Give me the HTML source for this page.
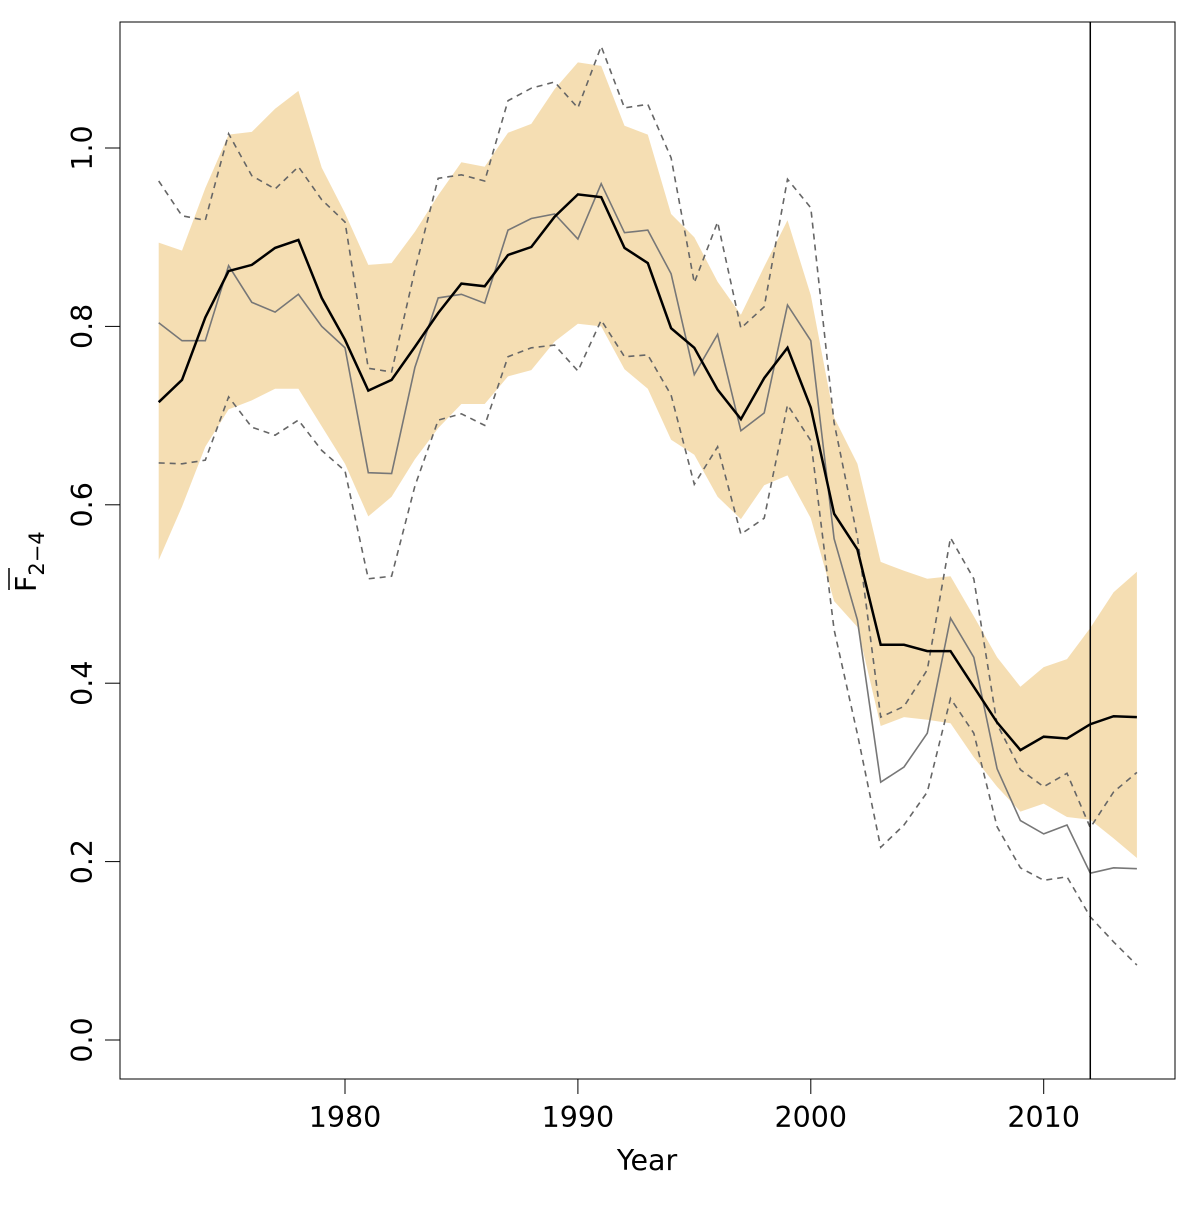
<!DOCTYPE html>
<html><head><meta charset="utf-8"><style>
html,body{margin:0;padding:0;background:#fff;}
svg text{font-family:"DejaVu Sans","Liberation Sans",sans-serif;fill:#000;}
</style></head><body>
<svg id="chart" width="1200" height="1200" viewBox="0 0 1200 1200">
<rect x="120" y="22" width="1055" height="1057" fill="none" stroke="#000" stroke-width="1"/>
<g id="band"></g><g id="lines"></g><g id="axes"></g>
</svg>
<script>
const years=[];for(let y=1972;y<=2014;y++)years.push(y);
const bandUpper=[0.894,0.885,0.955,1.015,1.018,1.044,1.064,0.978,0.927,0.869,0.871,0.906,0.947,0.984,0.979,1.017,1.027,1.066,1.096,1.092,1.025,1.015,0.926,0.9,0.85,0.813,0.867,0.919,0.835,0.698,0.646,0.536,0.526,0.517,0.52,0.475,0.429,0.396,0.418,0.427,0.462,0.502,0.525];
const bandLower=[0.538,0.598,0.665,0.707,0.717,0.73,0.73,0.688,0.646,0.587,0.609,0.651,0.686,0.713,0.713,0.744,0.751,0.783,0.803,0.8,0.752,0.73,0.673,0.656,0.609,0.584,0.622,0.633,0.585,0.492,0.463,0.352,0.362,0.359,0.355,0.317,0.284,0.256,0.265,0.25,0.247,0.226,0.204];
const meanF=[0.715,0.74,0.81,0.862,0.869,0.888,0.897,0.832,0.785,0.728,0.74,0.777,0.815,0.848,0.845,0.88,0.889,0.923,0.948,0.945,0.888,0.871,0.798,0.776,0.729,0.696,0.742,0.776,0.709,0.59,0.55,0.443,0.443,0.436,0.436,0.396,0.356,0.325,0.34,0.338,0.354,0.363,0.362];
const altF=[0.804,0.784,0.784,0.868,0.827,0.816,0.836,0.8,0.776,0.636,0.635,0.754,0.832,0.836,0.826,0.908,0.921,0.926,0.898,0.96,0.905,0.908,0.859,0.746,0.791,0.683,0.703,0.824,0.784,0.562,0.471,0.289,0.306,0.344,0.473,0.429,0.304,0.246,0.231,0.241,0.187,0.193,0.192];
const altUpper=[0.963,0.924,0.919,1.016,0.969,0.954,0.979,0.942,0.917,0.753,0.749,0.863,0.966,0.97,0.963,1.053,1.067,1.074,1.045,1.114,1.045,1.049,0.989,0.849,0.917,0.798,0.822,0.965,0.933,0.692,0.564,0.362,0.374,0.415,0.563,0.517,0.354,0.303,0.284,0.299,0.238,0.278,0.3];
const altLower=[0.647,0.646,0.65,0.721,0.687,0.678,0.695,0.661,0.638,0.517,0.52,0.621,0.695,0.702,0.689,0.766,0.776,0.779,0.75,0.807,0.766,0.768,0.723,0.623,0.665,0.567,0.585,0.712,0.672,0.46,0.343,0.216,0.241,0.278,0.383,0.344,0.239,0.193,0.179,0.183,0.138,0.11,0.084];
const xTicks=[1980,1990,2000,2010];
const yTicks=[0,0.2,0.4,0.6,0.8,1.0];
const yTickLabels=["0.0","0.2","0.4","0.6","0.8","1.0"];
const cutYear=2012;

const X=y=>345+(y-1980)*23.29;
const Y=v=>1040-v*892;
const NS="http://www.w3.org/2000/svg";
function mk(tag,parent,attrs){const e=document.createElementNS(NS,tag);for(const k in attrs)e.setAttribute(k,attrs[k]);document.getElementById(parent).appendChild(e);return e;}
const pts=a=>a.map((v,i)=>X(years[i]).toFixed(1)+","+Y(v).toFixed(1));

const band=mk('polygon','band',{points:pts(bandUpper).concat(pts(bandLower).reverse()).join(' '),fill:'#f5deb3'});



const l1=mk('polyline','lines',{points:pts(altUpper).join(' '),fill:'none',stroke:'#666','stroke-width':1.6,'stroke-dasharray':'6,5'});


const l2=mk('polyline','lines',{points:pts(altLower).join(' '),fill:'none',stroke:'#666','stroke-width':1.6,'stroke-dasharray':'6,5'});


const l3=mk('polyline','lines',{points:pts(altF).join(' '),fill:'none',stroke:'#777','stroke-width':1.6});


const l4=mk('polyline','lines',{points:pts(meanF).join(' '),fill:'none',stroke:'#000','stroke-width':2.5});


const vl=mk('line','lines',{x1:X(cutYear),x2:X(cutYear),y1:22,y2:1079,stroke:'#000','stroke-width':1.5});



mk('line','axes',{x1:X(xTicks[0]),x2:X(xTicks[xTicks.length-1]),y1:1079,y2:1079,stroke:'#000'});
xTicks.forEach(t=>{
  mk('line','axes',{x1:X(t),x2:X(t),y1:1079,y2:1094,stroke:'#000'});
  const tx=mk('text','axes',{x:X(t),y:1127,'text-anchor':'middle','font-size':28.5});
  tx.textContent=t;
  
  
});
mk('line','axes',{x1:120,x2:120,y1:Y(yTicks[0]),y2:Y(yTicks[yTicks.length-1]),stroke:'#000'});
yTicks.forEach((t,i)=>{
  mk('line','axes',{x1:105,x2:120,y1:Y(t),y2:Y(t),stroke:'#000'});
  const tx=mk('text','axes',{x:0,y:0,'text-anchor':'middle','font-size':28.5,transform:`translate(92,${Y(t)}) rotate(-90)`});
  tx.textContent=yTickLabels[i];
  
  
});
const xt=mk('text','axes',{x:647,y:1170,'text-anchor':'middle','font-size':28.5});
xt.textContent='Year';


const yt=mk('text','axes',{x:0,y:0,'font-size':28.5,transform:'translate(36,592) rotate(-90)'});
yt.innerHTML='<tspan>F</tspan><tspan font-size="21" dy="8">2−4</tspan>';


const ob=mk('line','axes',{x1:9,x2:9,y1:568,y2:590,stroke:'#000','stroke-width':1.5});


</script>
</body></html>
